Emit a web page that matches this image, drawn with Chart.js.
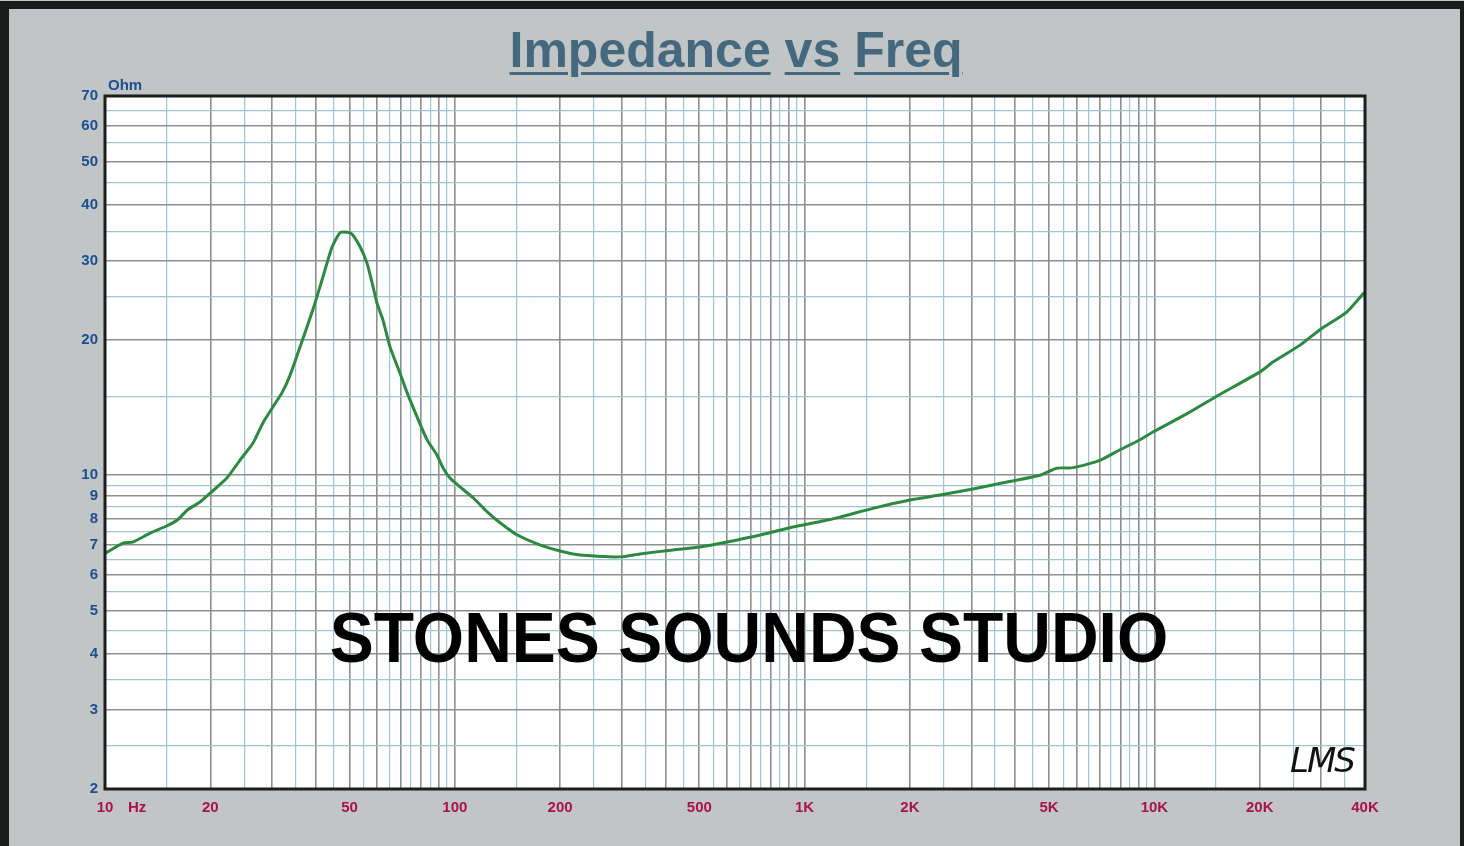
<!DOCTYPE html>
<html>
<head>
<meta charset="utf-8">
<script src="https://cdn.jsdelivr.net/npm/chart.js@4"></script>
<style>
  html, body { margin: 0; padding: 0; }
  body { width: 1464px; height: 846px; background: #c1c5c5; position: relative; overflow: hidden;
         font-family: "Liberation Sans", Arial, sans-serif; }
  #frameTop { position: absolute; left: 0; top: 1px; width: 1464px; height: 8px; background: #1a1b1b; }
  #frameLeft { position: absolute; left: 0; top: 1px; width: 9px; height: 845px; background: #1a1b1b; }
  #frameRight { position: absolute; left: 1460px; top: 1px; width: 4px; height: 845px; background: #1a1b1b; }
  #wrap { position: absolute; left: 0; top: 0; width: 1464px; height: 846px; }
  #title { position: absolute; left: 0; width: 1464px; top: 21px; text-align: center;
           font-size: 50px; font-weight: bold; color: #44697f; padding-left: 4px; }
  #title span { text-decoration: underline; text-decoration-thickness: 3px; text-underline-offset: 5px; }
  #ohm { position: absolute; left: 108px; top: 76px; font-size: 15px; font-weight: bold; color: #1b4f8f; }
  #hz { position: absolute; left: 128px; top: 798px; font-size: 15px; font-weight: bold; color: #a8144a; }
  #stamp { position: absolute; left: 0; width: 1498px; top: 597px; text-align: center;
           font-size: 66px; line-height: 76px; font-weight: bold; color: #000;
           transform: scaleY(1.06); transform-origin: 50% 0; }
  #lms { position: absolute; left: 1290px; top: 740px; font-size: 34px; font-style: italic;
         font-family: "DejaVu Sans", sans-serif; color: #111; letter-spacing: -2px; }
</style>
</head>
<body>
<div id="frameTop"></div>
<div id="frameLeft"></div>
<div id="frameRight"></div>
<div id="wrap"><canvas id="myChart" width="1464" height="846"></canvas></div>
<div id="title"><span>Impedance</span> <span>vs</span> <span>Freq</span></div>
<div id="ohm">Ohm</div>
<div id="hz">Hz</div>
<div id="stamp">STONES SOUNDS STUDIO</div>
<div id="lms">LMS</div>
<script>
// impedance curve
const freqHz = [10, 11.3, 12.0, 13.5, 15.0, 16.1, 17.2, 18.7, 20.0, 22.3, 24.3, 26.5, 28.3, 30.2, 32.1, 33.8,
  36.1, 39.3, 42.0, 44.6, 47.0, 49.2, 50.8, 53.6, 56.1, 58.4, 59.9, 62.3, 65.3, 69.7, 73.0, 78.0, 83.3,
  88.9, 92.5, 96.9, 103.5, 113, 124, 135, 151, 175, 200, 228, 297, 338, 421, 502, 600, 746, 926, 1129,
  1262, 1568, 2000, 2438, 3029, 3789, 4709, 5257, 5866, 6989, 7975, 9099, 9931, 12370, 15070, 20040,
  21880, 26090, 29740, 35460, 39570, 40000];
const impedanceOhm = [6.7, 7.07, 7.10, 7.44, 7.71, 7.95, 8.37, 8.72, 9.13, 9.86, 10.8, 11.8, 13.1, 14.2, 15.3, 16.7,
  19.3, 23.4, 27.7, 32.3, 34.7, 34.8, 34.5, 32.3, 29.7, 26.3, 24.2, 22.2, 19.3, 16.9, 15.3, 13.5, 12.0,
  11.1, 10.4, 9.86, 9.42, 8.90, 8.28, 7.83, 7.36, 7.00, 6.78, 6.64, 6.58, 6.68, 6.82, 6.92, 7.10, 7.36, 7.67, 7.91,
  8.07, 8.44, 8.81, 9.04, 9.32, 9.66, 10.0, 10.37, 10.4, 10.8, 11.4, 12.0, 12.5, 13.7, 15.0, 17.0,
  17.9, 19.5, 21.1, 23.1, 25.4, 25.5];

// labelled ticks
const xLabelVals = [10, 20, 50, 100, 200, 500, 1000, 2000, 5000, 10000, 20000, 40000];
const xLabelText = ["10", "20", "50", "100", "200", "500", "1K", "2K", "5K", "10K", "20K", "40K"];
const yLabelVals = [2, 3, 4, 5, 6, 7, 8, 9, 10, 20, 30, 40, 50, 60, 70];

const xMin = 10, xMax = 40000, yMin = 2, yMax = 70;

// grid lines: whole steps dark, half steps light blue
function gridValues(lo, hi) {
  let out = [];
  for (let d = 1; d <= hi; d *= 10) {
    for (let m = 1; m < 10; m += 0.5) {
      let v = +(m * d).toFixed(6);
      if (v >= lo && v <= hi) out.push(v);
    }
  }
  return out;
}
function isWhole(v) {
  let d = Math.pow(10, Math.floor(Math.log10(v) + 1e-9));
  let m = v / d;
  return Math.abs(m - Math.round(m)) < 1e-6;
}
const darkGrid = '#8b9091';
const blueGrid = '#9fc4d4';

const plotBg = {
  id: 'plotBg',
  beforeDraw(chart) {
    const a = chart.chartArea, c = chart.ctx;
    c.save();
    c.fillStyle = '#ffffff';
    c.fillRect(a.left, a.top, a.right - a.left, a.bottom - a.top);
    c.restore();
  },
  afterDraw(chart) {
    const a = chart.chartArea, c = chart.ctx;
    c.save();
    c.strokeStyle = '#1c1d1d';
    c.lineWidth = 3;
    c.strokeRect(a.left, a.top, a.right - a.left, a.bottom - a.top);
    c.restore();
  }
};

const ctx = document.getElementById('myChart').getContext('2d');
const myChart = new Chart(ctx, {
  type: 'line',
  data: {
    datasets: [{
      data: freqHz.map((f, i) => ({ x: f, y: impedanceOhm[i] })),
      borderColor: '#2b8a40',
      borderWidth: 3,
      pointRadius: 0,
      tension: 0.2,
      fill: false
    }]
  },
  options: {
    responsive: false,
    animation: false,
    layout: { padding: { left: 0, top: 96, right: 99, bottom: 0 } },
    plugins: { legend: { display: false }, tooltip: { enabled: false } },
    scales: {
      x: {
        type: 'logarithmic',
        min: xMin, max: xMax,
        afterBuildTicks: (s) => { s.ticks = gridValues(xMin, xMax).map(v => ({ value: v })); },
        afterFit: (s) => { s.height = 57; },
        border: { display: false },
        grid: {
          color: (c) => isWhole(c.tick.value) ? darkGrid : blueGrid,
          lineWidth: (c) => isWhole(c.tick.value) ? 1.6 : 1.2,
          drawTicks: false
        },
        ticks: {
          autoSkip: false, maxRotation: 0, padding: 10,
          color: '#a8144a',
          font: { family: '"Liberation Sans", Arial, sans-serif', size: 15, weight: 'bold' },
          callback: (v) => {
            const i = xLabelVals.indexOf(+v);
            return i >= 0 ? xLabelText[i] : '';
          }
        }
      },
      y: {
        type: 'logarithmic',
        min: yMin, max: yMax,
        afterBuildTicks: (s) => { s.ticks = gridValues(yMin, yMax).map(v => ({ value: v })); },
        afterFit: (s) => { s.width = 105; },
        border: { display: false },
        grid: {
          color: (c) => isWhole(c.tick.value) ? darkGrid : blueGrid,
          lineWidth: (c) => isWhole(c.tick.value) ? 1.6 : 1.2,
          drawTicks: false
        },
        ticks: {
          autoSkip: false, padding: 7,
          color: '#1b4f8f',
          font: { family: '"Liberation Sans", Arial, sans-serif', size: 15, weight: 'bold' },
          callback: (v) => yLabelVals.indexOf(+v) >= 0 ? String(v) : ''
        }
      }
    }
  },
  plugins: [plotBg]
});
</script>
</body>
</html>
